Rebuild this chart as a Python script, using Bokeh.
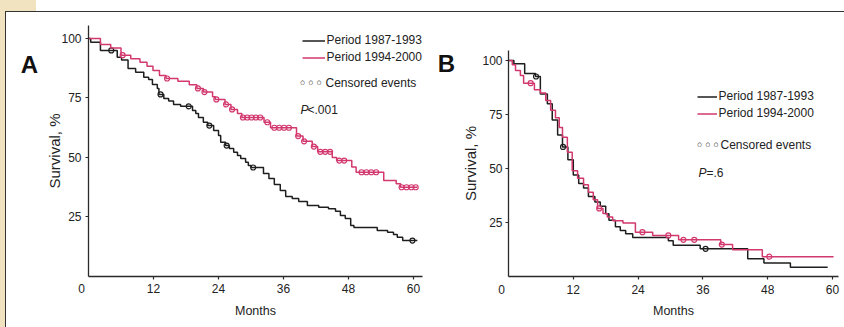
import numpy as np
from bokeh.plotting import figure
from bokeh.models import Range1d, FixedTicker, Label, Legend, LegendItem, Spacer
from bokeh.layouts import row, column
from bokeh.embed import file_html
from bokeh.resources import INLINE

# ---------------- data ----------------
months_ticks = [12, 24, 36, 48, 60]
surv_ticks = [25, 50, 75, 100]
series_names = ["Period 1987-1993", "Period 1994-2000"]

# Panel A, period 1987-1993
a87_t = [0, 0.4, 2.2, 5.3, 6.1, 7.3, 8.7, 10.2, 11.1, 11.8, 12.7, 13.0, 13.9, 14.8, 15.7,
         17.0, 19.2, 19.8, 20.3, 21.2, 22.0, 23.1, 24.0, 24.4, 25.3, 26.0, 26.8, 27.5, 28.1,
         29.0, 29.5, 30.0, 32.3, 33.3, 34.3, 35.4, 36.4, 37.6, 38.8, 40.4, 42.5, 44.3, 45.6,
         46.5, 47.4, 48.4, 49.0, 53.3, 55.2, 56.3, 57.0, 58.0]
a87_s = [100, 98.4, 95.0, 92.1, 91.0, 87.4, 85.8, 83.7, 82.8, 80.7, 79.0, 76.5, 74.8, 73.7, 72.3,
         71.5, 69.7, 68.5, 66.8, 64.8, 63.4, 61.3, 59.2, 56.4, 55.0, 53.8, 52.2, 50.8, 49.6,
         48.0, 46.6, 45.8, 43.3, 41.2, 38.7, 36.1, 33.6, 32.8, 31.5, 29.8, 29.1, 28.5, 27.4,
         25.6, 24.4, 21.4, 20.6, 19.3, 18.6, 17.6, 16.5, 15.1]
a87_end = 60.7
a87_cens = [4.2, 13.3, 18.5, 22.3, 25.5, 30.4, 59.8]

# Panel A, period 1994-2000
a94_t = [0, 2.2, 4.1, 6.0, 7.8, 9.5, 10.8, 11.9, 13.1, 14.3, 16.5, 18.6, 20.0, 21.2, 22.9, 23.4,
         25.2, 26.3, 27.5, 28.3, 32.4, 33.6, 38.4, 39.6, 41.3, 42.3, 45.0, 45.8, 48.6, 49.4,
         54.5, 56.8, 57.6]
a94_s = [100, 97.5, 96.0, 93.0, 91.5, 90.0, 88.3, 86.6, 84.5, 83.2, 82.0, 80.6, 79.0, 77.5, 75.5,
         74.4, 72.3, 70.2, 68.5, 66.8, 64.8, 62.5, 59.0, 56.8, 54.6, 52.4, 50.0, 48.7, 46.0,
         43.8, 40.3, 39.0, 37.5]
a94_end = 60.7
a94_cens = [6.3, 14.5, 20.2, 21.4, 23.6, 25.4, 26.5, 28.5, 29.3, 30.1, 30.9, 31.7, 33.0, 34.3,
            35.2, 36.1, 37.0, 38.7, 39.8, 41.6, 42.8, 43.7, 44.6, 46.3, 47.2, 50.4, 51.3, 52.2,
            53.1, 57.8, 58.7, 59.6, 60.4]

# Panel B, period 1987-1993
b87_t = [0, 1.0, 3.0, 5.0, 5.9, 7.2, 8.1, 9.1, 10.0, 11.0, 12.0, 13.0, 13.9, 14.8, 16.0, 17.0,
         18.0, 18.6, 19.8, 20.7, 21.7, 23.0, 29.6, 30.5, 35.5, 44.3, 47.3, 52.2]
b87_s = [100, 98.5, 94.0, 92.6, 84.5, 80.0, 72.5, 65.5, 60.0, 54.0, 47.0, 43.0, 41.0, 37.0, 34.5,
         32.5, 29.0, 26.0, 23.0, 21.3, 19.8, 18.0, 16.5, 14.5, 12.8, 8.2, 6.2, 4.3]
b87_end = 59.1
b87_cens = [5.1, 10.1, 36.5]

# Panel B, period 1994-2000
b94_t = [0, 0.7, 1.3, 2.2, 2.8, 4.8, 5.9, 6.9, 7.8, 8.7, 9.4, 10.0, 10.9, 11.8, 12.8, 13.9, 14.8,
         15.7, 16.5, 17.5, 18.3, 19.3, 21.2, 23.5, 26.7, 31.5, 39.3, 41.5, 47.0]
b94_s = [100, 98.0, 95.4, 93.0, 89.5, 86.5, 85.0, 81.5, 77.0, 73.5, 69.0, 64.5, 57.5, 49.0, 45.5,
         42.5, 39.0, 35.5, 31.5, 29.2, 27.5, 25.8, 24.8, 20.5, 19.0, 17.0, 14.8, 12.4, 9.2]
b94_end = 60.2
b94_cens = [4.1, 16.8, 24.8, 29.6, 32.4, 34.4, 39.5, 48.3]

# ---------------- style ----------------
FONT = "Liberation Sans"
TEXT = "#222222"
AXIS = "#2a2a2a"
BLACK = "#1e1e1e"
PINK = "#d2386e"
BEIGE = "#f1e3c0"
FIG_H = 315


def step_xy(t, s, end):
    return list(t) + [end], list(s) + [s[-1]]


def surv_at(t, s, c):
    idx = np.searchsorted(np.asarray(t), np.asarray(c), side="right") - 1
    return list(np.asarray(s)[idx])


def make_panel(width, xr, yr, xb, yb, curves, tick_standoff, label_standoff):
    p = figure(width=width, height=FIG_H, x_range=Range1d(*xr), y_range=Range1d(*yr),
               output_backend="svg", toolbar_location=None, min_border=0)
    p.grid.visible = False
    p.outline_line_color = None
    p.background_fill_color = "white"
    p.border_fill_color = "white"
    for ax in (p.xaxis[0], p.yaxis[0]):
        ax.fixed_location = 0
        ax.axis_line_color = AXIS
        ax.axis_line_width = 1.3
        ax.major_tick_line_color = AXIS
        ax.major_tick_line_width = 1.2
        ax.major_tick_in = 0
        ax.major_tick_out = 3
        ax.minor_tick_line_color = None
        ax.major_label_text_font = FONT
        ax.major_label_text_font_size = "12px"
        ax.major_label_text_color = TEXT
        ax.axis_label_text_font = FONT
        ax.axis_label_text_font_style = "normal"
        ax.axis_label_text_color = TEXT
    p.xaxis.axis_label_text_font_size = "12.5px"
    p.yaxis.axis_label_text_font_size = "15px"
    p.xaxis.bounds = xb
    p.yaxis.bounds = yb
    p.xaxis.ticker = FixedTicker(ticks=months_ticks)
    p.yaxis.ticker = FixedTicker(ticks=surv_ticks)
    p.xaxis.axis_label = "Months"
    p.yaxis.axis_label = "Survival, %"
    p.xaxis.major_label_standoff = 5
    p.xaxis.axis_label_standoff = 7
    p.yaxis.major_label_standoff = tick_standoff
    p.yaxis.axis_label_standoff = label_standoff
    p.add_layout(Label(x=0, y=0, text="0", x_offset=-7, y_offset=-8, text_align="center",
                       text_baseline="top", text_font=FONT, text_font_size="12px",
                       text_color=TEXT))
    rends = []
    for (t, s, end, cens, col) in curves:
        xs, ys = step_xy(t, s, end)
        r = p.step(xs, ys, mode="after", line_color=col, line_width=1.5)
        p.scatter(cens, surv_at(t, s, cens), marker="circle", size=5, line_color=col,
                  line_width=1.2, fill_alpha=0)
        rends.append(r)
    return p, rends


def add_texts(p, rends, letter, letter_off, leg_loc, glyph_w, row_off, txt_dx, cens_off,
              cens_text_dx, p_off, p_dx, p_text):
    p.add_layout(Label(x=0, y=100, text=letter, x_offset=letter_off[0], y_offset=letter_off[1],
                       text_align="center", text_baseline="middle", text_font=FONT,
                       text_font_style="bold", text_font_size="24px", text_color="#111111"))
    leg = Legend(items=[LegendItem(label=" ", renderers=[rends[0]]),
                        LegendItem(label=" ", renderers=[rends[1]])],
                 location=leg_loc, orientation="vertical", padding=0, margin=0, spacing=0,
                 glyph_width=glyph_w, glyph_height=17, label_height=17, label_width=1,
                 label_standoff=0, border_line_color=None, background_fill_alpha=0,
                 label_text_font_size="4px")
    p.add_layout(leg)
    for i, name in enumerate(series_names):
        p.add_layout(Label(x=0, y=100, text=name, x_offset=row_off[0] + txt_dx,
                           y_offset=row_off[1] - 17 * i, text_baseline="middle",
                           text_font=FONT, text_font_size="12px", text_color=TEXT))
    p.add_layout(Label(x=0, y=100, text="\u25e6\u25e6\u25e6", x_offset=cens_off[0] - 2,
                       y_offset=cens_off[1], text_baseline="middle", text_font="DejaVu Sans",
                       text_font_size="14px", text_color="#111111"))
    p.add_layout(Label(x=0, y=100, text="Censored events", x_offset=cens_off[0] + cens_text_dx,
                       y_offset=cens_off[1], text_baseline="middle", text_font=FONT,
                       text_font_size="12px", text_color=TEXT))
    p.add_layout(Label(x=0, y=100, text="P", x_offset=p_off[0], y_offset=p_off[1],
                       text_baseline="middle", text_font=FONT, text_font_style="italic",
                       text_font_size="12px", text_color=TEXT))
    p.add_layout(Label(x=0, y=100, text=p_text, x_offset=p_off[0] + p_dx, y_offset=p_off[1],
                       text_baseline="middle", text_font=FONT, text_font_size="12px",
                       text_color=TEXT))


# Panel A: figure spans x 6..434, y 12..327; t=0 at x 88, s=0 at y 276, s=100 at y 38
pA, rA = make_panel(428, (-15.14, 63.87), (-21.43, 110.92), (0, 61.66), (0, 105.5),
                    [(a87_t, a87_s, a87_end, a87_cens, BLACK),
                     (a94_t, a94_s, a94_end, a94_cens, PINK)], 4, -5)
add_texts(pA, rA, "A", (-59, -26), (296, 261), 23, (214, -2), 24, (212, -45), 25, (212, -72),
          7, "<.001")

# Panel B: figure spans x 434..844, y 12..327; t=0 at x 508, s=0 at y 276, s=100 at y 60
pB, rB = make_panel(410, (-13.70, 62.22), (-23.61, 122.22), (0, 61.1), (0, 104.6),
                    [(b87_t, b87_s, b87_end, b87_cens, BLACK),
                     (b94_t, b94_s, b94_end, b94_cens, PINK)], 3, 0)
add_texts(pB, rB, "B", (-62, -3), (263, 205), 20, (189, -36), 21, (189, -85), 23, (190, -113),
          8, "=.6")

top = row(Spacer(width=36, height=11, styles={"background-color": BEIGE}),
          Spacer(width=808, height=11, styles={"background-color": "white"}))
main = row(Spacer(width=5, height=316, styles={"background-color": BEIGE}),
           column(Spacer(width=839, height=1, styles={"background-color": "#333333"}),
                  row(Spacer(width=1, height=FIG_H, styles={"background-color": "#333333"}),
                      pA, pB)))
layout = column(top, main)

open("out.html", "w").write(file_html(layout, INLINE))
